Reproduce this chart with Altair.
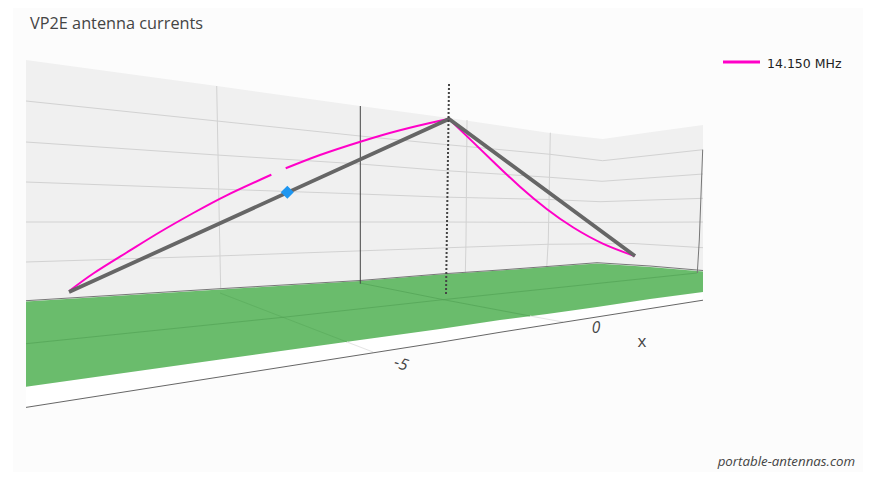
import altair as alt
import pandas as pd

W, H = 859, 464
X_DOMAIN = [8, 8 + W]
Y_DOMAIN = [8 + H, 8]

TITLE = "VP2E antenna currents"
LEGEND_LABEL = "14.150 MHz"
FOOTER = "portable-antennas.com"

# Projected scene (screen pixel units)
panel_x = [13, 863]
panel_y = [8, 472]

wall_x = [26, 217, 360, 449, 550, 602.7, 650, 703]
wall_top = [60, 86, 106, 118, 133, 139, 132.3, 125]
wall_bottom = [301.5, 289.5, 281, 274.5, 269, 264, 267, 272]

floor_x = [26, 220, 360, 440, 500, 547, 597, 650, 703]
floor_back = [301.5, 289.5, 281, 274.5, 270.5, 267, 263.5, 267, 271.5]
floor_front = [386.7, 359.5, 340, 329, 320, 314, 307, 299, 292]

strip_x = [26, 703]
strip_top = [386.7, 292]
strip_bottom = [407.4, 300.4]

grid_z = {
    "z1": ([26, 217, 360, 440, 550, 602.7, 703], [101, 121, 136, 144, 154.3, 160.7, 149.7]),
    "z2": ([26, 217, 360, 440, 550, 602, 703], [142, 155, 164, 170.3, 177.3, 181.3, 174]),
    "z3": ([26, 217, 360, 440, 550, 600, 703], [182, 189, 194, 197, 199.5, 201.7, 198.3]),
    "z4": ([26, 440, 600, 703], [222, 222, 222.5, 222]),
    "z5": ([26, 217, 440, 547, 633, 703], [262, 256, 248, 244.3, 243.5, 247.7]),
    "v1": ([216.7, 219.3, 220.7], [86, 222, 289]),
    "v3": ([467, 466, 465.3], [120, 240, 275]),
    "v4": ([550.3, 548.3, 546.7], [132.7, 240, 268]),
}
floor_grid_x = [26, 283, 440, 697]
floor_grid_y = [343.7, 317.3, 300, 273]
floor_a_x = [220, 347]
floor_a_y = [293, 342]
floor_b_x = [360, 440, 530]
floor_b_y = [283, 299, 316]
white_a_x = [347, 373]
white_a_y = [342, 352]
white_b_x = [530, 563]
white_b_y = [316, 322]

spine_back_x = [360.3, 360.3]
spine_back_y = [106, 283.7]
spine_right_x = [702.7, 699.3, 697.3]
spine_right_y = [149.7, 240, 273]
edge_x = [26, 220, 360, 440, 500, 547, 597, 650, 703]
edge_y = [300.7, 288.7, 280.5, 274, 270, 266.5, 262.7, 266, 270.5]
axis_x = [26, 440, 500, 703]
axis_y = [407.4, 342.3, 332.3, 300.2]

mast_x = [449, 446]
mast_y = [84, 295]
wire_x = [69, 449, 635]
wire_y = [292, 119, 256]
feed_x = [287.3]
feed_y = [192.3]

current_a_x = [69.3, 93.3, 126.7, 160, 193.3, 226.7, 271.3]
current_a_y = [291, 273.5, 252.5, 232, 213, 195.3, 174.7]
current_b_x = [285.7, 320, 360.3, 400, 440, 449]
current_b_y = [168.3, 155, 141.7, 130.2, 120.7, 119]
current_c_x = [449, 473.3, 496.7, 520, 546.7, 573.3, 603.3, 634.7]
current_c_y = [119, 142.4, 165, 186.7, 209, 227.5, 243.8, 256]

legend_line_x = [723, 760]
legend_line_y = [62, 62]

x_scale = alt.Scale(domain=X_DOMAIN, range=[0, W], clamp=False)
y_scale = alt.Scale(domain=Y_DOMAIN, range=[H, 0], clamp=False)
X = lambda f="x": alt.X(f"{f}:Q", scale=x_scale, axis=None)
Y = lambda f="y": alt.Y(f"{f}:Q", scale=y_scale, axis=None)


def band(xs, top, bottom, color, opacity=1.0):
    d = pd.DataFrame({"x": xs, "y": top, "y2": bottom})
    return alt.Chart(d).mark_area(color=color, opacity=opacity, interpolate="linear").encode(
        x=X(), y=Y(), y2="y2:Q"
    )


def line(xs, ys, color, width=1.0, opacity=1.0, dash=None, interp="linear"):
    d = pd.DataFrame({"x": xs, "y": ys, "o": range(len(xs))})
    kw = {"strokeDash": dash} if dash else {}
    return alt.Chart(d).mark_line(
        color=color, strokeWidth=width, opacity=opacity, interpolate=interp, **kw
    ).encode(x=X(), y=Y(), order="o:Q")


def label(x, y, text, size, color, font="Open Sans", align="left", angle=0, style="normal"):
    d = pd.DataFrame({"x": [x], "y": [y], "t": [text]})
    return alt.Chart(d).mark_text(
        font=font, fontSize=size, color=color, align=align, baseline="middle",
        angle=angle, fontStyle=style,
    ).encode(x=X(), y=Y(), text="t:N")


layers = [
    band(panel_x, [panel_y[0]] * 2, [panel_y[1]] * 2, "#fcfcfc"),
    band(wall_x, wall_top, wall_bottom, "#f0f0f0"),
    band(strip_x, strip_top, strip_bottom, "#ffffff"),
]
for gx, gy in grid_z.values():
    layers.append(line(gx, gy, "#d2d2d2", 1))
layers += [
    band(floor_x, floor_back, floor_front, "#6abc6c"),
    line(floor_grid_x, floor_grid_y, "#4f9f52", 1, 0.6),
    line(floor_a_x, floor_a_y, "#4f9f52", 1, 0.4),
    line(floor_b_x, floor_b_y, "#4f9f52", 1, 0.6),
    line(white_a_x, white_a_y, "#e4e4e4", 1),
    line(white_b_x, white_b_y, "#e4e4e4", 1),
    line(edge_x, edge_y, "#777777", 1),
    line(axis_x, axis_y, "#666666", 1),
    line(spine_back_x, spine_back_y, "#444444", 1),
    line(spine_right_x, spine_right_y, "#777777", 1),
    line(current_a_x, current_a_y, "#ff00c8", 2, interp="natural"),
    line(current_b_x, current_b_y, "#ff00c8", 2, interp="natural"),
    line(current_c_x, current_c_y, "#ff00c8", 2, interp="natural"),
    line(wire_x, wire_y, "#666666", 3.8),
    line(mast_x, mast_y, "#444444", 2, 1, [2, 2]),
    alt.Chart(pd.DataFrame({"x": feed_x, "y": feed_y})).mark_point(
        shape="diamond", filled=True, color="#1e96f0", size=170, opacity=1
    ).encode(x=X(), y=Y()),
    label(30, 24, TITLE, 16.3, "#444444"),
    line(legend_line_x, legend_line_y, "#ff00c8", 3),
    label(767, 64, LEGEND_LABEL, 12.5, "#222222", font="DejaVu Sans"),
    label(401, 364, "-5", 16, "#444444", align="center", angle=18, style="italic"),
    label(596, 328, "0", 15.5, "#444444", align="center", style="italic"),
    label(642, 342, "x", 17, "#444444", align="center"),
    label(855, 462, FOOTER, 13.3, "#444444", align="right", style="italic"),
]

chart = alt.layer(*layers).properties(
    width=W, height=H, padding=0, background="#ffffff",
    autosize=alt.AutoSizeParams(type="none"),
).configure_view(stroke=None)

chart.save("out.html", embed_options={"renderer": "svg", "actions": False})
